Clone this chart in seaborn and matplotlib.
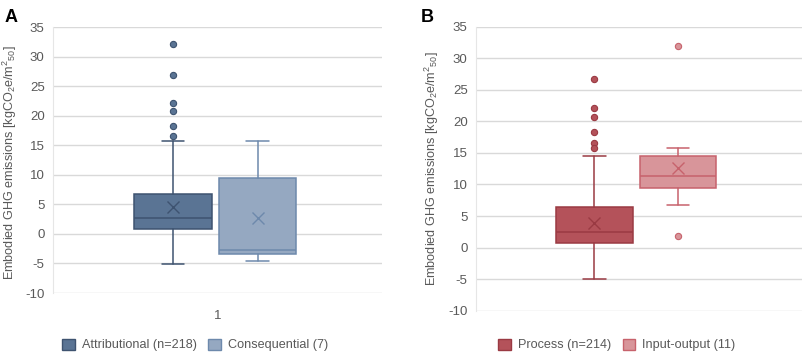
import matplotlib
matplotlib.use("Agg")
import matplotlib.pyplot as plt
from matplotlib.patches import Patch
import seaborn as sns

# ---------------- data (box statistics) ----------------
a_labels = ["Attributional (n=218)", "Consequential (7)"]
a_whislo = [-5.03, -4.53]
a_q1 = [0.83, -3.35]
a_med = [2.7, -2.78]
a_q3 = [6.8, 9.44]
a_whishi = [15.74, 15.74]
a_mean = [4.47, 2.62]
a_fliers = [[32.1, 26.8, 22.2, 20.75, 18.3, 16.6], []]

b_labels = ["Process (n=214)", "Input-output (11)"]
b_whislo = [-5.03, 6.79]
b_q1 = [0.72, 9.49]
b_med = [2.42, 11.34]
b_q3 = [6.47, 14.46]
b_whishi = [14.46, 15.73]
b_mean = [3.94, 12.56]
b_fliers = [[26.66, 22.16, 20.69, 18.26, 16.6, 15.73], [32.0, 1.78]]

yticks = [-10, -5, 0, 5, 10, 15, 20, 25, 30, 35]
xtick_label_a = ["1"]

a_fill = ["#5A7494", "#95A8C1"]
a_edge = ["#3E5370", "#6D89AC"]
b_fill = ["#B4525A", "#D8959A"]
b_edge = ["#9A3A43", "#C7626C"]

# ---------------- style ----------------
sns.set_theme(style="white")
plt.rcParams["font.family"] = ["Liberation Sans", "DejaVu Sans"]
plt.rcParams["mathtext.fontset"] = "custom"
plt.rcParams["mathtext.rm"] = "Liberation Sans"
plt.rcParams["mathtext.it"] = "Liberation Sans:italic"
plt.rcParams["mathtext.bf"] = "Liberation Sans:bold"
plt.rcParams["axes.unicode_minus"] = False

TXT = "#595959"
GRID = "#D9D9D9"

fig = plt.figure(figsize=(8.03, 3.53), dpi=100)
axA = fig.add_axes([53 / 803, 1 - 293 / 353, (382 - 53) / 803, (293 - 27) / 353])
axB = fig.add_axes([476 / 803, 1 - 310.7 / 353, (802 - 476) / 803, (310.7 - 26.7) / 353])

ylabel = r"Embodied GHG emissions [kgCO$_2$e/m$^2$$_{50}$]"


def draw(ax, whislo, q1, med, q3, whishi, mean, fliers, fills, edges):
    for i in range(len(med)):
        st = [dict(med=med[i], q1=q1[i], q3=q3[i], whislo=whislo[i],
                   whishi=whishi[i], mean=mean[i], fliers=fliers[i])]
        ec = edges[i]
        ax.bxp(st, positions=[i], widths=0.92, capwidths=0.27,
               patch_artist=True, showmeans=True, manage_ticks=False,
               boxprops=dict(facecolor=fills[i], edgecolor=ec, linewidth=1.1),
               medianprops=dict(color=ec, linewidth=1.1),
               whiskerprops=dict(color=ec, linewidth=1.1),
               capprops=dict(color=ec, linewidth=1.1),
               meanprops=dict(marker="x", markeredgecolor=ec, markersize=8.5,
                              markeredgewidth=1.0),
               flierprops=dict(marker="o", markerfacecolor=fills[i],
                               markeredgecolor=ec, markersize=4.5,
                               markeredgewidth=0.8))
    ax.set_ylim(-10, 35)
    ax.set_yticks(yticks)
    ax.yaxis.grid(True, color=GRID, linewidth=1.0)
    ax.set_axisbelow(True)
    for s in ["top", "right", "bottom"]:
        ax.spines[s].set_visible(False)
    ax.spines["left"].set_color("#E6E6E6")
    ax.spines["left"].set_linewidth(0.8)
    ax.tick_params(axis="y", colors=TXT, labelsize=9.5, length=3,
                   width=0.8, color=GRID, pad=3)
    ax.tick_params(axis="x", colors=TXT, labelsize=9.5, length=0)
    ax.set_ylabel(ylabel, color=TXT, fontsize=9.1)


draw(axA, a_whislo, a_q1, a_med, a_q3, a_whishi, a_mean, a_fliers, a_fill, a_edge)
axA.set_xlim(-1.42, 2.473)
axA.set_xticks([0.53])
axA.set_xticklabels(xtick_label_a)
axA.tick_params(axis="x", pad=12)
axA.yaxis.set_label_coords(-0.102, 0.49)

draw(axB, b_whislo, b_q1, b_med, b_q3, b_whishi, b_mean, b_fliers, b_fill, b_edge)
axB.set_xlim(-1.419, 2.485)
axB.set_xticks([])
axB.yaxis.set_label_coords(-0.107, 0.5)

# legends
hA = [Patch(facecolor=a_fill[i], edgecolor=a_edge[i], label=a_labels[i]) for i in range(2)]
hB = [Patch(facecolor=b_fill[i], edgecolor=b_edge[i], label=b_labels[i]) for i in range(2)]
legkw = dict(ncol=2, frameon=False, fontsize=9.1, handlelength=1.0,
             handleheight=1.0, handletextpad=0.55, columnspacing=0.9,
             labelcolor=TXT, loc="center left")
fig.legend(handles=hA, bbox_to_anchor=(51 / 803, 1 - 345 / 353), **legkw)
fig.legend(handles=hB, bbox_to_anchor=(487 / 803, 1 - 345 / 353), **legkw)

fig.text(5 / 803, 1 - 17 / 353, "A", fontsize=13, fontweight="bold", color="black",
         va="center", ha="left")
fig.text(421 / 803, 1 - 17 / 353, "B", fontsize=13, fontweight="bold", color="black",
         va="center", ha="left")

fig.savefig("out.png", dpi=100)
